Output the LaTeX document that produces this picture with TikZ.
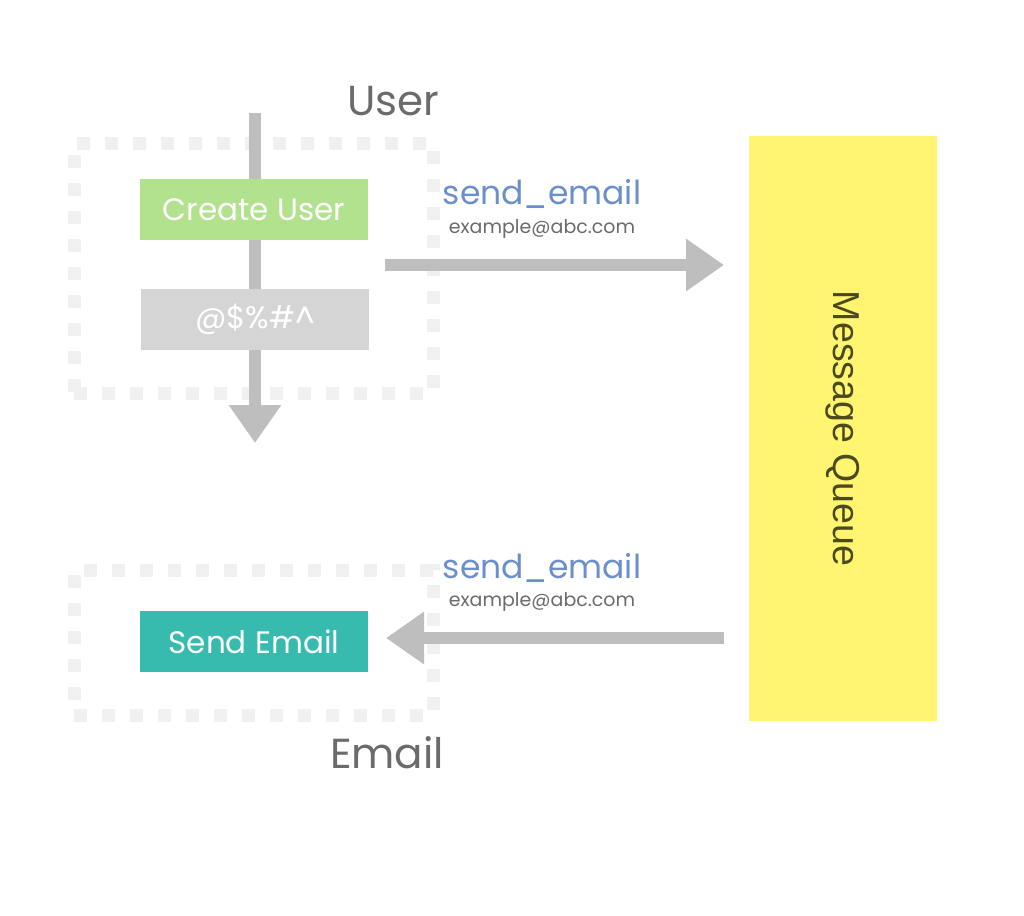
\documentclass[tikz,border=0pt]{standalone}
\usepackage{fontspec}
\setmainfont{Poppins}
\newfontfamily\queuefont{Liberation Sans}
\usetikzlibrary{positioning,arrows.meta}
\definecolor{flowgray}{HTML}{BEBEBE}
\definecolor{zonegray}{HTML}{F0F0F0}
\definecolor{creategreen}{HTML}{B3E28F}
\definecolor{maskgray}{HTML}{D5D5D5}
\definecolor{sendteal}{HTML}{38BBAF}
\definecolor{queueyellow}{HTML}{FFF570}
\definecolor{eventblue}{HTML}{6B8FCA}
\definecolor{labelgray}{HTML}{6B6B6B}
\definecolor{queuetext}{HTML}{4A4A1E}

\begin{document}
\begin{tikzpicture}[x=1pt, y=-1pt,
        zone/.style={draw=zonegray, line width=13pt, dash pattern=on 13pt off 15pt, minimum width=359pt, inner sep=0pt},
        task/.style={minimum width=228pt, minimum height=61pt, inner sep=0pt, text=white, font=\fontsize{31}{33}\selectfont},
        flow/.style={draw=flowgray, line width=12pt, -{Triangle[width=50pt,length=38pt]}},
        service/.style={text=labelgray, font=\fontsize{42}{44}\selectfont},
        event/.style={text=eventblue, font=\fontsize{33}{35}\selectfont},
        payload/.style={text=labelgray, font=\fontsize{19}{21}\selectfont}]
        \useasboundingbox (0,0) rectangle (1024,915);
        % services
        \node[zone, minimum height=250pt] (userzone) at (253.5,268) {};
        \node[zone, minimum height=145pt] (emailzone) at (253.5,642.5) {};
        \coordinate (userin) at (255,113);
        \coordinate (userout) at (255,443);
        \draw[flow] (userin) -- (userout);
        \node[task, fill=creategreen] (create) at (254,209.5) {Create User};
        \node[task, fill=maskgray] (mask) at (255,319) {@\$\%\#\textasciicircum};
        \node[task, fill=sendteal] (send) at (254,641.5) {Send Email};
        \node[service] (user) at (393,101) {User};
        \node[service] (email) at (387,753) {Email};
        % queue
        \node[fill=queueyellow, minimum width=188pt, minimum height=585pt, inner sep=0pt] (queue) at (843,428.5) {};
        \node[rotate=-90, text=queuetext, font=\queuefont\fontsize{37.5}{39}\selectfont] (queuelabel) at (queue.center) {Message Queue};
        % events
        \coordinate (pubstart) at (385,265);
        \coordinate (pubend) at (724,265);
        \draw[flow] (pubstart) -- (pubend);
        \coordinate (substart) at (724,638);
        \coordinate (subend) at (386,638);
        \draw[flow] (substart) -- (subend);
        \node[event] (pub) at (542,194) {send\_email};
        \node[payload] (pubdata) at (542,229) {example@abc.com};
        \node[event] (sub) at (542,568) {send\_email};
        \node[payload] (subdata) at (542,602) {example@abc.com};
    \end{tikzpicture}
\end{document}
